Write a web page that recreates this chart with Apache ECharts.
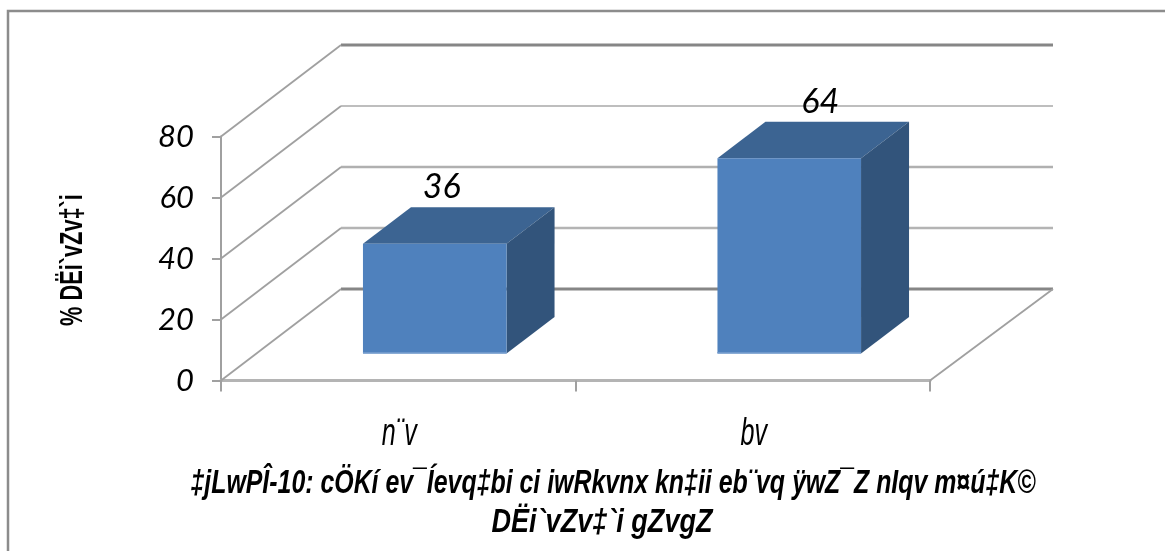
<!DOCTYPE html>
<html><head><meta charset="utf-8">
<style>html,body{margin:0;padding:0;background:#fff}#c{width:1165px;height:551px}</style>
<script src="https://cdn.jsdelivr.net/npm/echarts@6/dist/echarts.min.js"></script>
</head><body><div id="c"></div>
<script>
const categories = ['n¨v', 'bv'];
const values = [36, 64];
const labels = ['36', '64'];
const gridValues = [0, 20, 40, 60, 80];
const titleLines = ['‡jLwPÎ-10: cÖKí ev¯Íevq‡bi ci iwRkvnx kn‡ii eb¨vq ÿwZ¯Z nIqv m¤ú‡K©', 'DËi`vZv‡`i gZvgZ'];
const yName = '% DËi`vZv‡`i';

const DXL = 120, DXR = 123, DY = 91.5;  // wall depth
const BX = 36.5, BY = 27;               // bar front offset from the front plane
const BDX = 48, BDY = 36.5;             // bar depth
const labelShift = [7, 31];
const wallStyle = {
  0:  {stroke: '#868686', lineWidth: 3},
  20: {stroke: '#b4b4b4', lineWidth: 2.5},
  40: {stroke: '#b0b0b0', lineWidth: 2.5},
  60: {stroke: '#a8a8a8', lineWidth: 1.5},
  80: {stroke: '#868686', lineWidth: 3}
};

function renderWall(params, api) {
  const v = api.value(1);
  const cs = params.coordSys;
  const y = api.coord([0, v])[1];
  const x0 = cs.x, x1 = cs.x + cs.width;
  const st = wallStyle[v];
  const kids = [
    {type: 'line', shape: {x1: x0 + DXL, y1: y - DY, x2: x1 + DXR, y2: y - DY},
     style: {stroke: st.stroke, lineWidth: st.lineWidth}},
    {type: 'line', shape: {x1: x0, y1: y, x2: x0 + DXL, y2: y - DY},
     style: {stroke: '#a0a0a0', lineWidth: 1.8}}
  ];
  if (v === 0) kids.push({type: 'line', shape: {x1: x1, y1: y, x2: x1 + DXR, y2: y - DY},
     style: {stroke: '#a0a0a0', lineWidth: 1.8}});
  return {type: 'group', children: kids};
}

function renderBar(params, api) {
  const i = api.value(0), v = api.value(1);
  const band = api.size([1, 0])[0];
  const w = band * 0.405;
  const c = api.coord([i, v]), b = api.coord([i, 0]);
  const l = c[0] - w / 2 + BX, r = l + w;
  const t = c[1] - BY, g = b[1] - BY;
  return {type: 'group', children: [
    {type: 'polygon', shape: {points: [[l, t], [l + BDX, t - BDY], [r + BDX, t - BDY], [r, t]]}, style: {fill: '#3c6492'}},
    {type: 'polygon', shape: {points: [[r, t], [r + BDX, t - BDY], [r + BDX, g - BDY], [r, g]]}, style: {fill: '#32547b'}},
    {type: 'rect', shape: {x: l, y: t, width: w, height: g - t}, style: {fill: '#4f81bd'}},
    {type: 'rect', shape: {x: l, y: g - 1.5, width: w, height: 1.5}, style: {fill: '#6f98cb'}},
    {type: 'text', x: c[0] + BX + labelShift[i], y: t - BDY - 20, style: {
      text: labels[i], align: 'center', verticalAlign: 'middle',
      font: 'italic 34px Lato', fill: '#000'}}
  ]};
}

function renderCategoryLabel(params, api) {
  const i = api.value(0);
  const p = api.coord([i, 0]);
  return {type: 'text', x: p[0] + 1, y: p[1] + 54, scaleX: 0.66, style: {
    text: categories[i], align: 'center', verticalAlign: 'middle',
    font: 'italic 38px "Liberation Sans"', fill: '#000'}};
}

const chart = echarts.init(document.getElementById('c'), null, {renderer: 'canvas'});
chart.setOption({
  animation: false,
  backgroundColor: '#fff',
  grid: {left: 221, right: 235, top: 136.5, bottom: 170.5},
  xAxis: {
    type: 'category', data: categories, boundaryGap: true,
    axisLine: {lineStyle: {color: '#b4b4b4', width: 3}},
    axisTick: {show: true, alignWithLabel: false, length: 11, lineStyle: {color: '#a0a0a0', width: 2}},
    axisLabel: {show: false}
  },
  yAxis: {
    type: 'value', min: 0, max: 80, interval: 20,
    axisLine: {show: true, lineStyle: {color: '#a0a0a0', width: 2}},
    axisTick: {show: true, length: 9, lineStyle: {color: '#a0a0a0', width: 2}},
    axisLabel: {margin: 27, fontFamily: 'Lato', fontStyle: 'italic', fontSize: 31, color: '#000'},
    splitLine: {show: false}
  },
  graphic: [
    {type: 'rect', z: -1, shape: {x: 8, y: 11, width: 1300, height: 700}, style: {fill: 'none', stroke: '#8c8c8c', lineWidth: 2.5}},
    {type: 'text', x: 73, y: 260, rotation: Math.PI / 2, scaleX: 0.68, style: {
      text: yName, align: 'center', verticalAlign: 'middle',
      font: 'bold 32px "Liberation Sans"', fill: '#000'}},
    {type: 'text', x: 613, y: 484, scaleX: 0.754, style: {
      text: titleLines[0], align: 'center', verticalAlign: 'middle',
      font: 'italic bold 33px "Liberation Sans"', fill: '#000'}},
    {type: 'text', x: 602, y: 523, scaleX: 0.82, style: {
      text: titleLines[1], align: 'center', verticalAlign: 'middle',
      font: 'italic bold 33px "Liberation Sans"', fill: '#000'}}
  ],
  series: [
    {type: 'custom', clip: false, z: 1, renderItem: renderWall, data: gridValues.map(v => [0, v]), encode: {x: 0, y: 1}},
    {type: 'custom', clip: false, z: 3, renderItem: renderBar, data: values.map((v, i) => [i, v]), encode: {x: 0, y: 1}},
    {type: 'custom', clip: false, z: 3, renderItem: renderCategoryLabel, data: categories.map((c, i) => [i, 0]), encode: {x: 0, y: 1}}
  ]
});
</script></body></html>
